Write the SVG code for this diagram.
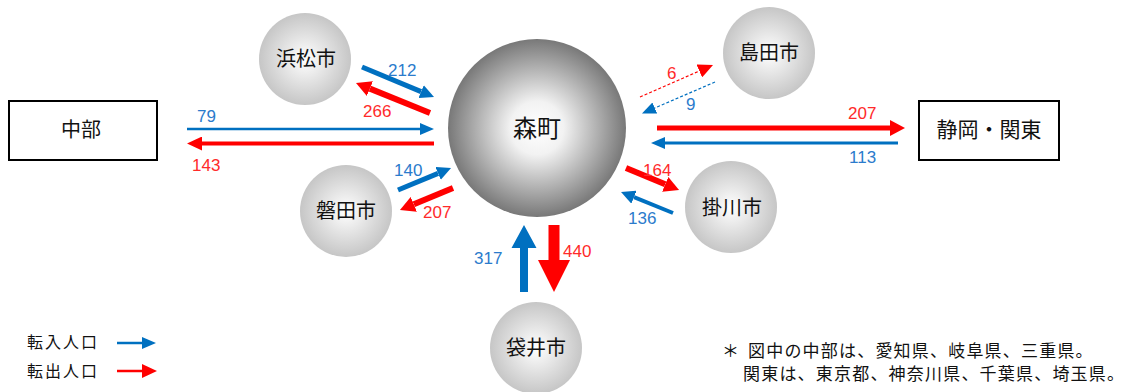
<svg xmlns="http://www.w3.org/2000/svg" width="1127" height="392" viewBox="0 0 1127 392">
<style>
  .lbl{font-family:"Noto Sans CJK JP","Liberation Sans",sans-serif;fill:#111;text-anchor:middle}
  .num{font-family:"Liberation Sans",Arial,sans-serif;font-size:17px}
  .nb{fill:#2b7bcc}
  .nr{fill:#ff2a2a}
  .box{fill:#fff;stroke:#000;stroke-width:2}
  .blue{stroke:#0070c0;fill:none}
  .red{stroke:#ff0000;fill:none}
  .dash{stroke-width:1.2;stroke-dasharray:3 2}
  .leg{font-family:"Noto Sans CJK JP","Liberation Sans",sans-serif;font-size:16px;fill:#111;letter-spacing:2px}
  .note{font-family:"Noto Sans CJK JP","Liberation Sans",sans-serif;font-size:17px;fill:#111;letter-spacing:1.2px}
</style>
<defs>
  <radialGradient id="gBig" cx="50%" cy="50%" r="50%">
    <stop offset="0" stop-color="#ffffff"/>
    <stop offset="0.3" stop-color="#f2f2f2"/>
    <stop offset="1" stop-color="#787878"/>
  </radialGradient>
  <radialGradient id="gSmall" cx="50%" cy="50%" r="50%">
    <stop offset="0" stop-color="#ffffff"/>
    <stop offset="1" stop-color="#c6c6c6"/>
  </radialGradient>
  <marker id="hb" markerUnits="userSpaceOnUse" viewBox="0 0 14 14" refX="0" refY="7" markerWidth="14" markerHeight="14" orient="auto"><path d="M0,0 L14,7 L0,14 z" fill="#0070c0"/></marker>
  <marker id="hr" markerUnits="userSpaceOnUse" viewBox="0 0 15 16" refX="0" refY="8" markerWidth="15" markerHeight="16" orient="auto"><path d="M0,0 L15,8 L0,16 z" fill="#ff0000"/></marker>
  <marker id="hbt" markerUnits="userSpaceOnUse" viewBox="0 0 14 12" refX="0" refY="6" markerWidth="14" markerHeight="12" orient="auto"><path d="M0,0 L14,6 L0,12 z" fill="#0070c0"/></marker>
  <marker id="hrt" markerUnits="userSpaceOnUse" viewBox="0 0 15 14" refX="0" refY="7" markerWidth="15" markerHeight="14" orient="auto"><path d="M0,0 L15,7 L0,14 z" fill="#ff0000"/></marker>
</defs>
<rect width="1127" height="392" fill="#fff"/>

<g id="node-morimachi">
  <circle cx="537" cy="128" r="89" fill="url(#gBig)"/>
  <text class="lbl" x="537" y="137" font-size="24">森町</text>
</g>
<g id="node-hamamatsu">
  <circle cx="305" cy="59" r="46" fill="url(#gSmall)"/>
  <text class="lbl" x="306" y="66" font-size="20">浜松市</text>
</g>
<g id="node-shimada">
  <circle cx="769" cy="53" r="46" fill="url(#gSmall)"/>
  <text class="lbl" x="769" y="60" font-size="20">島田市</text>
</g>
<g id="node-iwata">
  <circle cx="346" cy="211" r="46" fill="url(#gSmall)"/>
  <text class="lbl" x="346" y="218" font-size="20">磐田市</text>
</g>
<g id="node-kakegawa">
  <circle cx="731" cy="207" r="46" fill="url(#gSmall)"/>
  <text class="lbl" x="732" y="215" font-size="20">掛川市</text>
</g>
<g id="node-fukuroi">
  <circle cx="536" cy="348" r="46" fill="url(#gSmall)"/>
  <text class="lbl" x="536" y="355" font-size="20">袋井市</text>
</g>
<g id="node-chubu">
  <rect class="box" x="9" y="101" width="148" height="59"/>
  <text class="lbl" x="81" y="137" font-size="20">中部</text>
</g>
<g id="node-shizuoka-kanto">
  <rect class="box" x="919" y="101" width="140" height="59"/>
  <text class="lbl" x="989" y="137" font-size="21">静岡・関東</text>
</g>

<g id="connectors">
  <line class="blue" x1="362" y1="67" x2="421.1" y2="91.6" stroke-width="5" marker-end="url(#hb)"/>
  <line class="red" x1="430" y1="113" x2="369.9" y2="88.6" stroke-width="6" marker-end="url(#hr)"/>
  <line class="blue" x1="187" y1="129" x2="420" y2="129" stroke-width="2.5" marker-end="url(#hbt)"/>
  <line class="red" x1="434" y1="143.5" x2="202" y2="143.5" stroke-width="4" marker-end="url(#hrt)"/>
  <line class="blue" x1="398" y1="190" x2="438.1" y2="173.4" stroke-width="5" marker-end="url(#hb)"/>
  <line class="red" x1="453" y1="188" x2="413.8" y2="204.3" stroke-width="6" marker-end="url(#hr)"/>
  <line class="red dash" x1="640" y1="97" x2="699.3" y2="71" marker-end="url(#hrt)"/>
  <line class="blue dash" x1="715" y1="82" x2="654.8" y2="108" marker-end="url(#hbt)"/>
  <line class="red" x1="657" y1="128" x2="890" y2="128" stroke-width="5" marker-end="url(#hr)"/>
  <line class="blue" x1="898" y1="143" x2="665" y2="143" stroke-width="3" marker-end="url(#hbt)"/>
  <line class="red" x1="626" y1="168" x2="665.2" y2="184.3" stroke-width="6" marker-end="url(#hr)"/>
  <line class="blue" x1="673" y1="213" x2="634" y2="197.2" stroke-width="4" marker-end="url(#hb)"/>
  <polygon points="520,292 520,248 511.5,248 524,225 536.5,248 528,248 528,292" fill="#0070c0"/>
  <polygon points="548.5,225 559.5,225 559.5,260 570,260 554,292 538,260 548.5,260" fill="#ff0000"/>
</g>

<g id="labels">
  <text class="num nb" x="388" y="76">212</text>
  <text class="num nr" x="363" y="117">266</text>
  <text class="num nb" x="197" y="122">79</text>
  <text class="num nr" x="192" y="171">143</text>
  <text class="num nb" x="394" y="176">140</text>
  <text class="num nr" x="423" y="218">207</text>
  <text class="num nb" x="474" y="264">317</text>
  <text class="num nr" x="563" y="257">440</text>
  <text class="num nr" x="667" y="79">6</text>
  <text class="num nb" x="686" y="110">9</text>
  <text class="num nr" x="848" y="119">207</text>
  <text class="num nb" x="849" y="163">113</text>
  <text class="num nr" x="643" y="176">164</text>
  <text class="num nb" x="628" y="224">136</text>
</g>

<g id="legend">
  <text class="leg" x="27" y="348">転入人口</text>
  <line class="blue" x1="117" y1="343" x2="142" y2="343" stroke-width="2.5" marker-end="url(#hbt)"/>
  <text class="leg" x="27" y="377">転出人口</text>
  <line class="red" x1="117" y1="371" x2="142" y2="371" stroke-width="2.5" marker-end="url(#hrt)"/>
</g>

<g id="note">
  <text class="note" y="357"><tspan x="722">＊</tspan><tspan x="748">図中の中部は、愛知県、岐阜県、三重県。</tspan></text>
  <text class="note" x="743" y="380">関東は、東京都、神奈川県、千葉県、埼玉県。</text>
</g>
</svg>
